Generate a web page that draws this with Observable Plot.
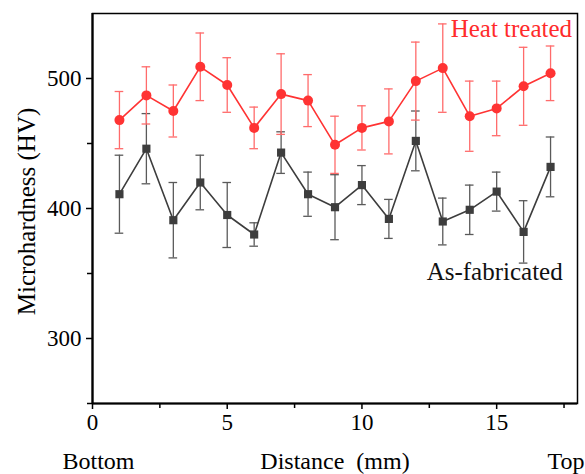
<!DOCTYPE html>
<html>
<head>
<meta charset="utf-8">
<script src="https://cdn.jsdelivr.net/npm/d3@7"></script>
<script src="https://cdn.jsdelivr.net/npm/@observablehq/plot@0.6"></script>
<style>
  html, body { margin: 0; padding: 0; background: #fff; }
  svg, svg text, svg g { font-family: 'Liberation Serif', 'Times New Roman', serif !important; font-variant: normal !important; }
</style>
</head>
<body>
<div id="chart"></div>
<script>
const distance = [1, 2, 3, 4, 5, 6, 7, 8, 9, 10, 11, 12, 13, 14, 15, 16, 17];
const heatTreated = [468, 487, 475, 509, 495, 462, 488, 483, 449, 462, 467, 498, 508, 471, 477, 494, 504];
const heatTreatedErr = [22, 22, 20, 26, 21, 16, 31, 20, 22, 17, 25, 30, 34, 27, 21, 30, 21];
const asFabricated = [411, 446, 391, 420, 395, 380, 443, 411, 401, 418, 392, 452, 390, 399, 413, 382, 432];
const asFabricatedErr = [30, 27, 29, 21, 25, 9, 16, 17, 25, 15, 15, 23, 18, 19, 15, 24, 23];
const yTicks = [300, 400, 500];
const yMinorTicks = [250, 350, 450];
const xTicks = [0, 5, 10, 15];
const xMinorTicks = [2.5, 7.5, 12.5, 17.5];
const seriesLabels = [
  {x: 17.8, y: 538, text: "Heat treated", color: "#ff2b2b"},
  {x: 17.45, y: 351, text: "As-fabricated", color: "#111"}
];

const red = "#ff3333", redErr = "#ff6b6b";
const dark = "#3d3d3d", darkErr = "#5a5a5a";
const font = "'Liberation Serif', 'Times New Roman', serif";

const ht = distance.map((x, i) => ({x, y: heatTreated[i], e: heatTreatedErr[i]}));
const af = distance.map((x, i) => ({x, y: asFabricated[i], e: asFabricatedErr[i]}));
const cap = 0.16;

const errMarks = (data, color) => [
  Plot.ruleX(data, {x: "x", y1: d => d.y - d.e, y2: d => d.y + d.e, stroke: color, strokeWidth: 1.3}),
  Plot.ruleY(data, {y: d => d.y + d.e, x1: d => d.x - cap, x2: d => d.x + cap, stroke: color, strokeWidth: 1.3}),
  Plot.ruleY(data, {y: d => d.y - d.e, x1: d => d.x - cap, x2: d => d.x + cap, stroke: color, strokeWidth: 1.3})
];

const chart = Plot.plot({
  width: 585,
  height: 474,
  marginLeft: 92,
  marginRight: 8,
  marginTop: 13,
  marginBottom: 71,
  style: `font-family: ${font}; background: #fff;`,
  x: {domain: [0, 18]},
  y: {domain: [250, 550]},
  marks: [
    Plot.frame({stroke: "#000", strokeWidth: 1.5}),
    Plot.ruleX([0], {stroke: "#000", strokeWidth: 2.2}),
    Plot.ruleY([250], {stroke: "#000", strokeWidth: 2.2}),
    Plot.axisY(yTicks, {tickSize: 6, tickPadding: 5, fontSize: 23, fontFamily: font, label: null, strokeWidth: 1.5, fill: "#000"}),
    Plot.axisY(yMinorTicks, {tickSize: 5, text: null, label: null, strokeWidth: 1.5}),
    Plot.axisX(xTicks, {tickSize: 6, tickPadding: 4, fontSize: 23, fontFamily: font, label: null, strokeWidth: 1.5, fill: "#000"}),
    Plot.axisX(xMinorTicks, {tickSize: 5, text: null, label: null, strokeWidth: 1.5}),
    ...errMarks(af, darkErr),
    ...errMarks(ht, redErr),
    Plot.line(af, {x: "x", y: "y", stroke: dark, strokeWidth: 1.6}),
    Plot.dot(af, {x: "x", y: "y", symbol: "square", r: 4.6, fill: dark, stroke: "none"}),
    Plot.line(ht, {x: "x", y: "y", stroke: red, strokeWidth: 1.6}),
    Plot.dot(ht, {x: "x", y: "y", r: 5, fill: red, stroke: "none"}),
    Plot.text(seriesLabels, {x: "x", y: "y", text: "text", fill: d => d.color, textAnchor: "end", fontSize: 25, fontFamily: font}),
    Plot.text(["Microhardness (HV)"], {frameAnchor: "left", rotate: -90, textAnchor: "middle", lineAnchor: "middle", dx: -66, dy: 3, fontSize: 25, fontFamily: font, fill: "#000"}),
    Plot.text(["Distance\u00a0 (mm)"], {frameAnchor: "bottom", textAnchor: "middle", lineAnchor: "middle", dx: 0, dy: 58, fontSize: 24, fontFamily: font, fill: "#000"}),
    Plot.text(["Bottom"], {frameAnchor: "bottom-left", textAnchor: "start", lineAnchor: "middle", dx: -30, dy: 58, fontSize: 24, fontFamily: font, fill: "#000"}),
    Plot.text(["Top"], {frameAnchor: "bottom-right", textAnchor: "end", lineAnchor: "middle", dx: 7, dy: 58, fontSize: 24, fontFamily: font, fill: "#000"})
  ]
});
document.getElementById("chart").appendChild(chart);
</script>
</body>
</html>
